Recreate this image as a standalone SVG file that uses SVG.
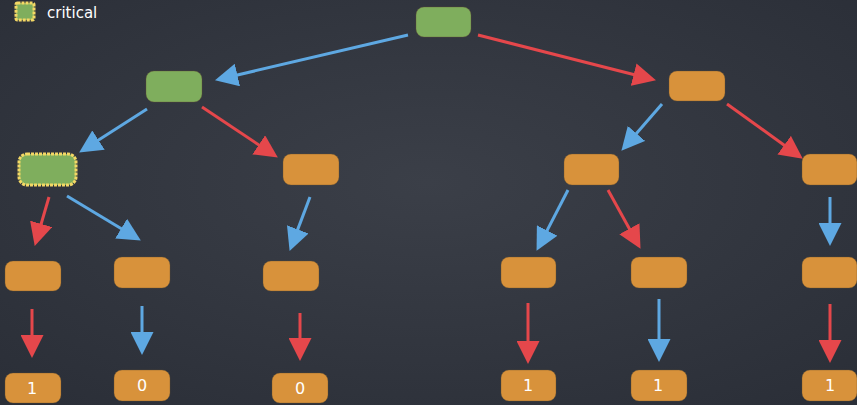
<svg xmlns="http://www.w3.org/2000/svg" width="857" height="405" viewBox="0 0 857 405">
<style>
.n rect{stroke:#6b5330;stroke-opacity:.35;stroke-width:1}
.g{fill:#7fae5d}
.o{fill:#d8923b}
.crit{fill:#7fae5d;stroke:#f4d865;stroke-width:3;stroke-dasharray:3 1}
.t{font-family:"DejaVu Sans","Noto Sans",sans-serif;font-size:16px;fill:#ffffff;text-anchor:middle}
.r{stroke:#e5474b;stroke-width:3;fill:none;marker-end:url(#ar)}
.b{stroke:#5ea8e2;stroke-width:3;fill:none;marker-end:url(#ab)}
</style>
<defs>
<radialGradient id="bg" cx="0.5" cy="0.45" r="0.7">
<stop offset="0" stop-color="#3b3f48"/>
<stop offset="1" stop-color="#2b2f38"/>
</radialGradient>
<marker id="ar" markerUnits="userSpaceOnUse" markerWidth="23" markerHeight="23" refX="12" refY="11.5" orient="auto" viewBox="0 0 23 23"><path d="M0,0 L23,11.5 L0,23 z" fill="#e5474b"/></marker>
<marker id="ab" markerUnits="userSpaceOnUse" markerWidth="23" markerHeight="23" refX="12" refY="11.5" orient="auto" viewBox="0 0 23 23"><path d="M0,0 L23,11.5 L0,23 z" fill="#5ea8e2"/></marker>
</defs>
<rect width="857" height="405" fill="url(#bg)"/>
<g id="legend">
<rect x="16" y="3" width="18" height="17" rx="1.5" class="crit"/>
<text x="47" y="18" font-family="DejaVu Sans,Noto Sans,sans-serif" font-size="15" fill="#ffffff">critical</text>
</g>
<g id="connectors">
<line class="b" x1="408" y1="35" x2="225.7" y2="77.7"/>
<line class="r" x1="478" y1="35" x2="645.3" y2="77.5"/>
<line class="b" x1="147" y1="109" x2="88.4" y2="146.6"/>
<line class="r" x1="202" y1="107" x2="268.7" y2="151.5"/>
<line class="b" x1="662" y1="104" x2="628.6" y2="142.5"/>
<line class="r" x1="727" y1="104" x2="793.9" y2="152.2"/>
<line class="r" x1="49" y1="197" x2="37.8" y2="235.4"/>
<line class="b" x1="67" y1="196" x2="131.4" y2="234.8"/>
<line class="b" x1="310" y1="197" x2="293.5" y2="240.6"/>
<line class="b" x1="568" y1="190" x2="541.6" y2="241.1"/>
<line class="r" x1="608" y1="190" x2="635.2" y2="239.2"/>
<line class="b" x1="830" y1="197" x2="830" y2="235"/>
<line class="r" x1="32" y1="309" x2="32" y2="347"/>
<line class="b" x1="142" y1="306" x2="142" y2="344"/>
<line class="r" x1="300" y1="313" x2="300" y2="350"/>
<line class="r" x1="528" y1="303" x2="528" y2="353"/>
<line class="b" x1="659" y1="299" x2="659" y2="351"/>
<line class="r" x1="830" y1="304" x2="830" y2="352"/>
</g>
<g id="root" class="n"><rect x="416" y="7" width="55" height="30" rx="8" class="g"/></g>
<g id="L" class="n"><rect x="146" y="71" width="56" height="31" rx="8" class="g"/></g>
<g id="R" class="n"><rect x="669" y="71" width="56" height="30" rx="8" class="o"/></g>
<g id="LL"><rect x="19" y="154" width="57" height="31" rx="8" class="crit"/></g>
<g id="LR" class="n"><rect x="283" y="154" width="56" height="31" rx="8" class="o"/></g>
<g id="RL" class="n"><rect x="564" y="154" width="55" height="31" rx="8" class="o"/></g>
<g id="RR" class="n"><rect x="802" y="154" width="55" height="31" rx="8" class="o"/></g>
<g id="LLL" class="n"><rect x="5" y="261" width="56" height="30" rx="8" class="o"/></g>
<g id="LLR" class="n"><rect x="114" y="257" width="56" height="31" rx="8" class="o"/></g>
<g id="LRL" class="n"><rect x="263" y="261" width="56" height="30" rx="8" class="o"/></g>
<g id="RLL" class="n"><rect x="501" y="257" width="55" height="31" rx="8" class="o"/></g>
<g id="RLR" class="n"><rect x="631" y="257" width="56" height="31" rx="8" class="o"/></g>
<g id="RRR" class="n"><rect x="802" y="257" width="55" height="31" rx="8" class="o"/></g>
<g id="LLLL" class="n"><rect x="5" y="373" width="56" height="30" rx="8" class="o"/><text class="t" x="32" y="394">1</text></g>
<g id="LLRL" class="n"><rect x="114" y="370" width="56" height="31" rx="8" class="o"/><text class="t" x="142" y="391">0</text></g>
<g id="LRLL" class="n"><rect x="272" y="373" width="56" height="30" rx="8" class="o"/><text class="t" x="300" y="394">0</text></g>
<g id="RLLL" class="n"><rect x="501" y="370" width="55" height="31" rx="8" class="o"/><text class="t" x="528" y="391">1</text></g>
<g id="RLRL" class="n"><rect x="631" y="370" width="56" height="31" rx="8" class="o"/><text class="t" x="658" y="391">1</text></g>
<g id="RRRL" class="n"><rect x="802" y="370" width="55" height="31" rx="8" class="o"/><text class="t" x="830" y="391">1</text></g>
</svg>
